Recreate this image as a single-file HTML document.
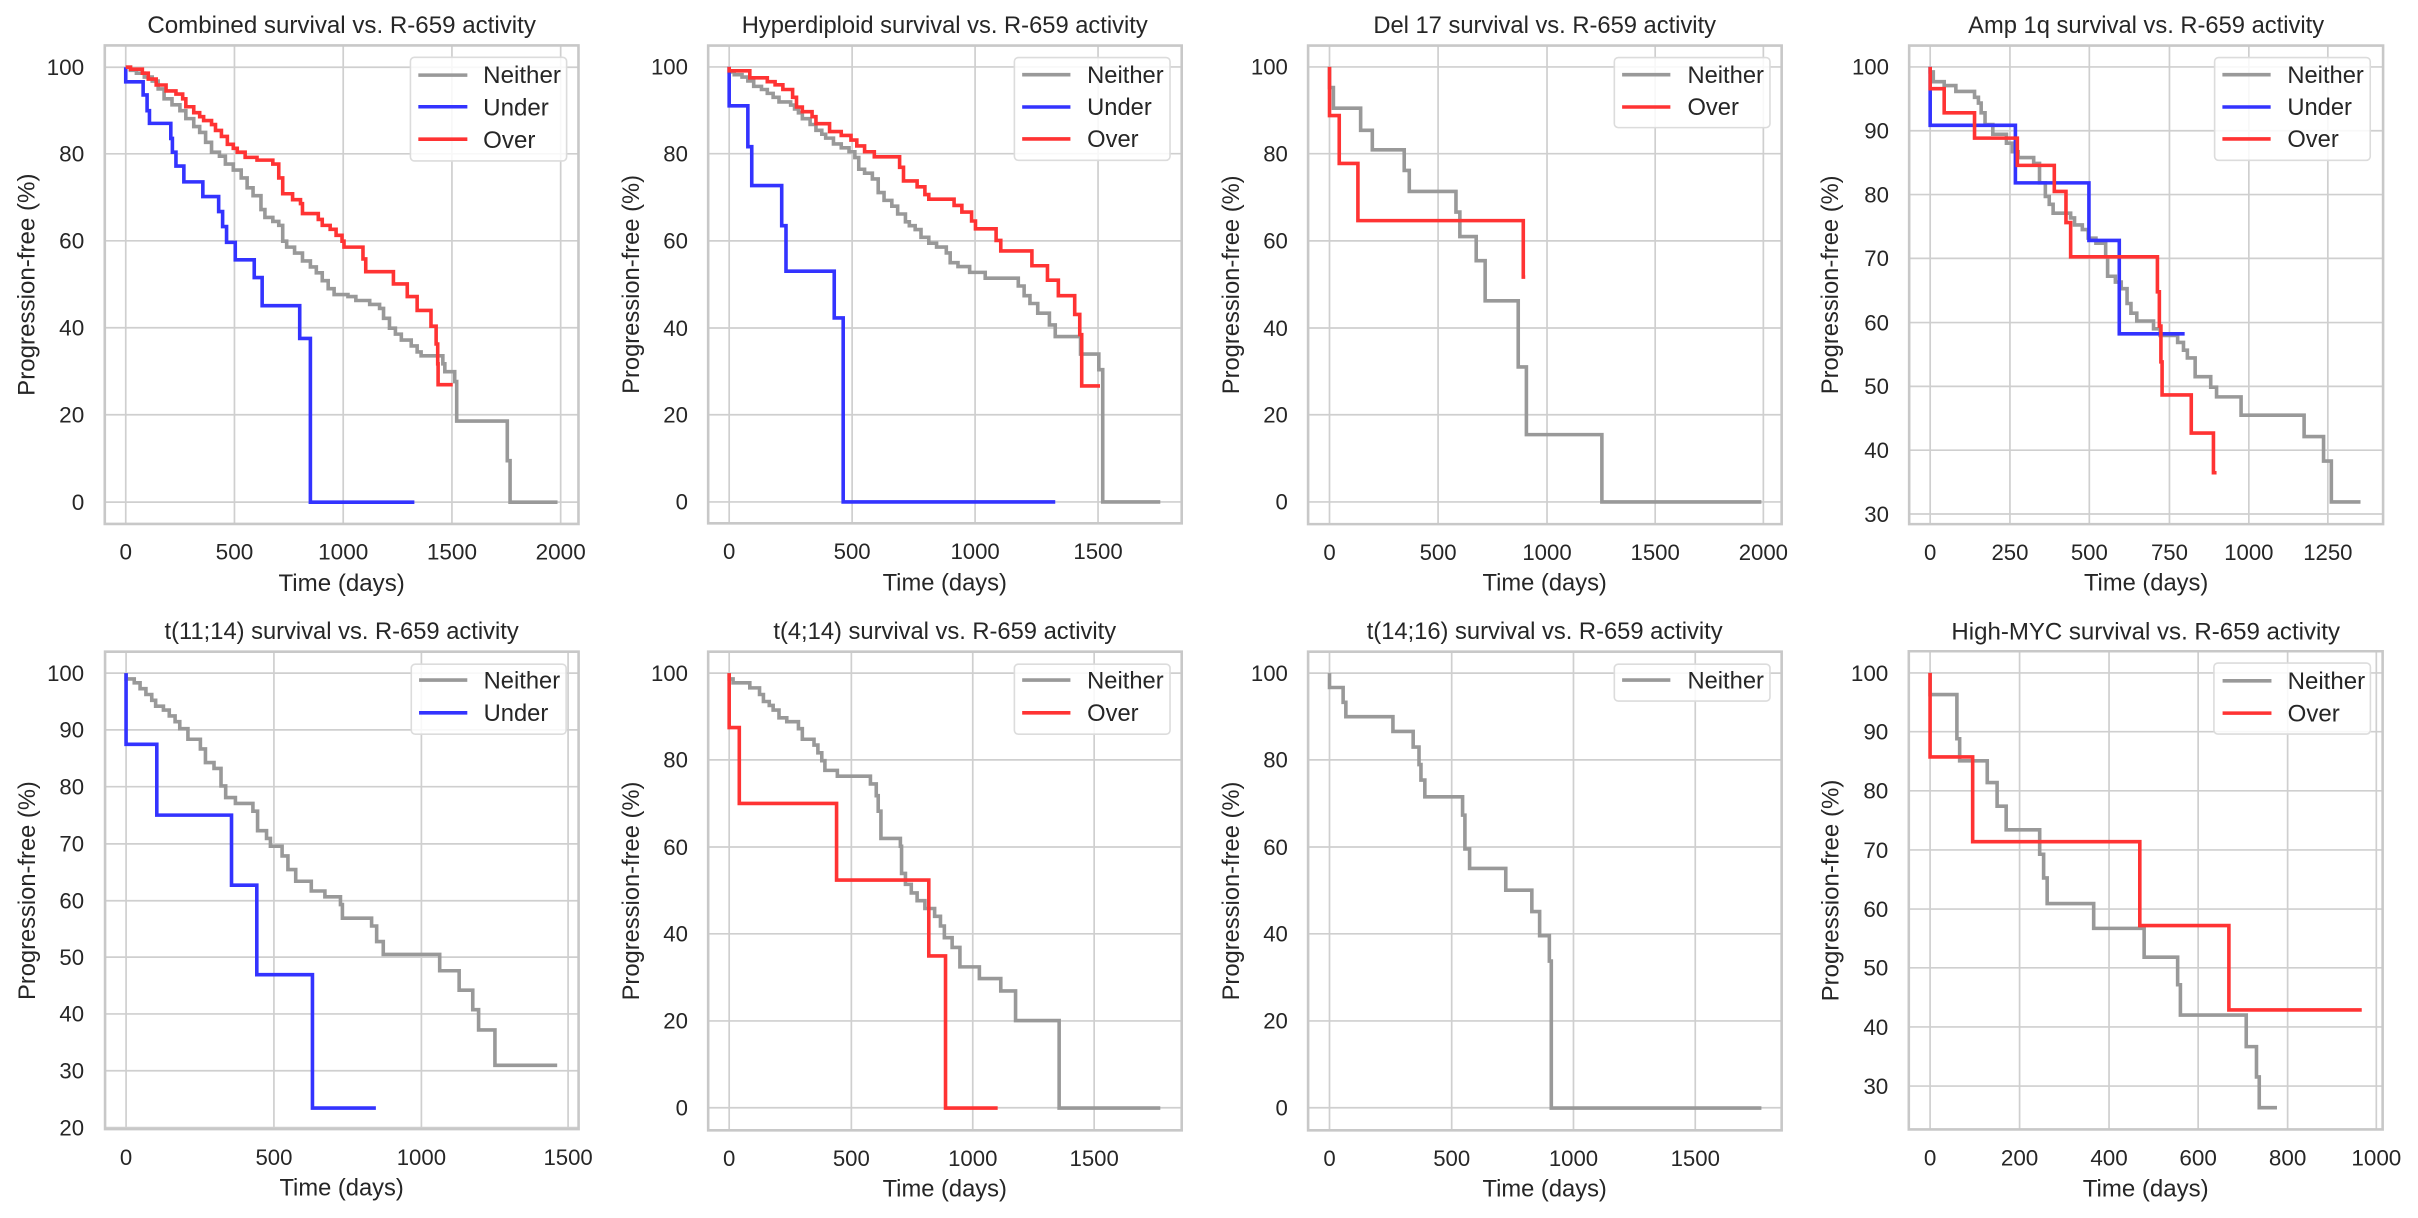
<!DOCTYPE html>
<html><head><meta charset="utf-8"><style>
html,body{margin:0;padding:0;background:#fff;}
svg{display:block;}
path,rect{vector-effect:non-scaling-stroke;}
.g{stroke:#cfcfcf;stroke-width:1.7;fill:none;}
.f{stroke:#c8c8c8;stroke-width:2.6;fill:none;}
.n{stroke:#999;stroke-width:3.6;fill:none;}
.u{stroke:#3333ff;stroke-width:3.6;fill:none;}
.o{stroke:#ff3333;stroke-width:3.6;fill:none;}
.lg{fill:#fff;fill-opacity:0.85;stroke:#dcdcdc;stroke-width:1.6;}
text{font-family:"Liberation Sans",Arial,sans-serif;fill:#262626;}
.t{font-size:57px;}
.ty{font-size:57px;text-anchor:end;}
.tx{font-size:57px;text-anchor:middle;}
.l{font-size:61px;text-anchor:middle;}
.lt{font-size:61px;}
</style></head><body>
<svg width="2418" height="1218" viewBox="0 0 2418 1218" xmlns="http://www.w3.org/2000/svg">

<!-- Panel 1 -->
<g transform="translate(0,0) scale(0.3954)">
<path class="g" d="M318 115V1325M593 115V1325M868 115V1325M1143 115V1325M1418 115V1325M265 170H1463M265 389H1463M265 609H1463M265 829H1463M265 1049H1463M265 1270H1463"/>
<path class="n" d="M318 170H330V178H345V185H365V195H385V205H400V225H415V250H435V265H455V280H470V300H490V320H505V335H520V360H535V385H555V395H570V415H590V430H610V450H625V475H640V495H660V530H670V550H690V560H705V570H715V610H725V625H745V640H765V660H785V675H800V690H815V710H830V730H845V745H880V750H900V760H935V770H960V780H970V805H985V830H1000V845H1015V860H1040V875H1055V890H1065V900H1100V900H1120V920H1125V940H1150V965H1155V1065H1283V1165H1290V1270H1410"/>
<path class="u" d="M318 170V207H362V240H372V280H378V312H432V350H436V385H445V420H465V460H513V497H553V535H563V573H573V613H595V657H643V702H663V773H758V856H785V1270H1048"/>
<path class="o" d="M318 170H330V175H360V185H375V200H395V215H420V230H445V238H462V250H470V270H490V285H505V295H515V305H535V315H545V330H560V345H575V365H590V375H600V385H620V398H650V405H690V415H705V450H715V490H740V505H760V515H765V540H805V555H815V570H835V580H850V595H865V610H870V625H918V655H925V687H995V718H1030V750H1055V785H1090V825H1103V870H1107V920H1108V973H1145"/>
<rect class="lg" x="1038" y="145" width="395" height="262" rx="10"/>
<path class="n" d="M1058 190H1182"/><path class="u" d="M1058 270H1182"/><path class="o" d="M1058 352H1182"/>
<text class="lt" x="1222" y="210">Neither</text><text class="lt" x="1222" y="292">Under</text><text class="lt" x="1222" y="374">Over</text>
<rect class="f" x="265" y="115" width="1198" height="1210"/>
<text class="ty" x="213" y="190">100</text><text class="ty" x="213" y="409">80</text><text class="ty" x="213" y="629">60</text><text class="ty" x="213" y="849">40</text><text class="ty" x="213" y="1069">20</text><text class="ty" x="213" y="1290">0</text>
<text class="tx" x="318" y="1415">0</text><text class="tx" x="593" y="1415">500</text><text class="tx" x="868" y="1415">1000</text><text class="tx" x="1143" y="1415">1500</text><text class="tx" x="1418" y="1415">2000</text>
<text class="l" x="864" y="1495">Time (days)</text>
<text class="l" transform="translate(87,720) rotate(-90)">Progression-free (%)</text>
<text class="l" x="864" y="83">Combined survival vs. R-659 activity</text>
</g>

<!-- Panel 2 -->
<g transform="translate(600,0) scale(0.3891)">
<path class="g" d="M332 117V1345M648 117V1345M964 117V1345M1280 117V1345M278 172H1495M278 395H1495M278 619H1495M278 843H1495M278 1066H1495M278 1290H1495"/>
<path class="n" d="M332 172V185H345V192H365V198H380V208H395V222H415V230H430V240H445V250H460V262H490V270H500V280H510V290H520V305H540V320H555V335H570V345H580V355H600V370H620V380H640V390H655V405H665V435H680V445H700V460H715V495H730V515H750V530H765V550H785V570H795V580H810V590H825V610H845V625H865V635H890V650H900V675H920V685H950V700H990V715H1075V735H1090V760H1105V780H1125V805H1155V835H1170V865H1235V910H1282V950H1292V1290H1440"/>
<path class="u" d="M332 172V272H380V377H390V477H467V580H478V697H602V817H625V1290H1170"/>
<path class="o" d="M332 172V182H385V200H430V210H450V218H470V230H495V250H505V275H520V287H545V300H555V318H590V338H620V348H645V360H660V375H680V390H705V403H770V430H780V465H815V480H835V500H845V512H910V528H930V545H955V568H965V588H1018V618H1030V645H1110V683H1150V720H1178V760H1220V808H1233V860H1238V992H1285"/>
<rect class="lg" x="1065" y="148" width="400" height="264" rx="10"/>
<path class="n" d="M1085 192H1209"/><path class="u" d="M1085 275H1209"/><path class="o" d="M1085 357H1209"/>
<text class="lt" x="1252" y="213">Neither</text><text class="lt" x="1252" y="296">Under</text><text class="lt" x="1252" y="378">Over</text>
<rect class="f" x="278" y="117" width="1217" height="1228"/>
<text class="ty" x="226" y="192">100</text><text class="ty" x="226" y="415">80</text><text class="ty" x="226" y="639">60</text><text class="ty" x="226" y="863">40</text><text class="ty" x="226" y="1086">20</text><text class="ty" x="226" y="1310">0</text>
<text class="tx" x="332" y="1437">0</text><text class="tx" x="648" y="1437">500</text><text class="tx" x="964" y="1437">1000</text><text class="tx" x="1280" y="1437">1500</text>
<text class="l" x="886" y="1517">Time (days)</text>
<text class="l" transform="translate(100,731) rotate(-90)">Progression-free (%)</text>
<text class="l" x="886" y="85">Hyperdiploid survival vs. R-659 activity</text>
</g>

<!-- Panel 3 -->
<g transform="translate(1205,0) scale(0.3891)">
<path class="g" d="M320 117V1347M599 117V1347M879 117V1347M1157 117V1347M1435 117V1347M265 172H1482M265 395H1482M265 619H1482M265 843H1482M265 1066H1482M265 1290H1482"/>
<path class="n" d="M320 172V225H330V278H400V335H430V385H512V438H525V492H645V545H655V608H697V670H720V773H805V943H826V1117H1020V1290H1430"/>
<path class="o" d="M320 172V297H345V420H393V567H818V712H823"/>
<rect class="lg" x="1052" y="148" width="400" height="180" rx="10"/>
<path class="n" d="M1072 192H1196"/><path class="o" d="M1072 275H1196"/>
<text class="lt" x="1240" y="213">Neither</text><text class="lt" x="1240" y="296">Over</text>
<rect class="f" x="265" y="117" width="1217" height="1230"/>
<text class="ty" x="213" y="192">100</text><text class="ty" x="213" y="415">80</text><text class="ty" x="213" y="639">60</text><text class="ty" x="213" y="863">40</text><text class="ty" x="213" y="1086">20</text><text class="ty" x="213" y="1310">0</text>
<text class="tx" x="320" y="1439">0</text><text class="tx" x="599" y="1439">500</text><text class="tx" x="879" y="1439">1000</text><text class="tx" x="1157" y="1439">1500</text><text class="tx" x="1435" y="1439">2000</text>
<text class="l" x="873" y="1517">Time (days)</text>
<text class="l" transform="translate(87,732) rotate(-90)">Progression-free (%)</text>
<text class="l" x="873" y="85">Del 17 survival vs. R-659 activity</text>
</g>

<!-- Panel 4 -->
<g transform="translate(1808,0) scale(0.3891)">
<path class="g" d="M314 117V1347M519 117V1347M723 117V1347M929 117V1347M1133 117V1347M1336 117V1347M260 172H1478M260 336H1478M260 500H1478M260 664H1478M260 829H1478M260 993H1478M260 1157H1478M260 1321H1478"/>
<path class="n" d="M314 172V185H322V210H350V220H380V235H428V250H438V265H445V290H455V320H475V345H510V368H525V390H540V405H580V420H595V470H610V505H620V525H630V548H675V560H685V578H705V590H720V612H740V625H765V660H770V710H790V725H805V742H820V780H830V805H845V825H888V845H905V862H950V880H965V900H975V920H995V968H1035V995H1050V1020H1113V1067H1275V1122H1325V1185H1345V1290H1420"/>
<path class="u" d="M314 172V322H533V470H722V618H800V858H968"/>
<path class="o" d="M314 172V228H350V290H428V355H538V425H633V492H663V572H675V660H898V750H903V838H907V930H910V1015H985V1113H1042V1215H1050"/>
<rect class="lg" x="1045" y="148" width="400" height="264" rx="10"/>
<path class="n" d="M1065 192H1189"/><path class="u" d="M1065 275H1189"/><path class="o" d="M1065 357H1189"/>
<text class="lt" x="1232" y="213">Neither</text><text class="lt" x="1232" y="296">Under</text><text class="lt" x="1232" y="378">Over</text>
<rect class="f" x="260" y="117" width="1218" height="1230"/>
<text class="ty" x="208" y="192">100</text><text class="ty" x="208" y="356">90</text><text class="ty" x="208" y="520">80</text><text class="ty" x="208" y="684">70</text><text class="ty" x="208" y="849">60</text><text class="ty" x="208" y="1013">50</text><text class="ty" x="208" y="1177">40</text><text class="ty" x="208" y="1341">30</text>
<text class="tx" x="314" y="1439">0</text><text class="tx" x="519" y="1439">250</text><text class="tx" x="723" y="1439">500</text><text class="tx" x="929" y="1439">750</text><text class="tx" x="1133" y="1439">1000</text><text class="tx" x="1336" y="1439">1250</text>
<text class="l" x="869" y="1517">Time (days)</text>
<text class="l" transform="translate(77,732) rotate(-90)">Progression-free (%)</text>
<text class="l" x="869" y="85">Amp 1q survival vs. R-659 activity</text>
</g>

<!-- Panel 5 -->
<g transform="translate(0,605) scale(0.3891)">
<path class="g" d="M324 120V1347M704 120V1347M1083 120V1347M1460 120V1347M270 175H1487M270 321H1487M270 467H1487M270 614H1487M270 760H1487M270 905H1487M270 1051H1487M270 1197H1487M270 1343H1487"/>
<path class="n" d="M324 175V190H345V200H360V215H375V230H390V245H400V260H420V270H435V285H450V300H462V318H483V345H515V370H528V405H550V420H568V465H580V495H605V510H650V530H662V580H685V600H695V620H725V645H740V680H760V710H800V735H835V750H875V770H880V805H955V825H968V865H985V898H1130V940H1180V990H1215V1040H1230V1092H1272V1183H1432"/>
<path class="u" d="M324 175V358H403V540H595V720H660V950H803V1293H966"/>
<rect class="lg" x="1057" y="152" width="398" height="180" rx="10"/>
<path class="n" d="M1077 193H1201"/><path class="u" d="M1077 277H1201"/>
<text class="lt" x="1243" y="214">Neither</text><text class="lt" x="1243" y="298">Under</text>
<rect class="f" x="270" y="120" width="1217" height="1227"/>
<text class="ty" x="216" y="195">100</text><text class="ty" x="216" y="341">90</text><text class="ty" x="216" y="487">80</text><text class="ty" x="216" y="634">70</text><text class="ty" x="216" y="780">60</text><text class="ty" x="216" y="925">50</text><text class="ty" x="216" y="1071">40</text><text class="ty" x="216" y="1217">30</text><text class="ty" x="216" y="1363">20</text>
<text class="tx" x="324" y="1439">0</text><text class="tx" x="704" y="1439">500</text><text class="tx" x="1083" y="1439">1000</text><text class="tx" x="1460" y="1439">1500</text>
<text class="l" x="878" y="1517">Time (days)</text>
<text class="l" transform="translate(90,734) rotate(-90)">Progression-free (%)</text>
<text class="l" x="878" y="88">t(11;14) survival vs. R-659 activity</text>
</g>

<!-- Panel 6 -->
<g transform="translate(600,605) scale(0.3891)">
<path class="g" d="M332 120V1350M646 120V1350M958 120V1350M1270 120V1350M278 175H1495M278 398H1495M278 622H1495M278 845H1495M278 1069H1495M278 1292H1495"/>
<path class="n" d="M332 175V190H342V200H385V213H410V230H420V248H435V258H445V270H460V290H480V300H510V318H520V345H550V360H560V380H570V400H578V425H610V440H695V460H710V490H715V530H722V600H772V620H775V690H785V718H800V740H815V760H835V780H860V800H875V825H885V855H905V880H925V930H975V960H1030V992H1068V1068H1180V1293H1440"/>
<path class="o" d="M332 175V315H358V510H608V707H845V902H888V1293H1022"/>
<rect class="lg" x="1065" y="152" width="400" height="180" rx="10"/>
<path class="n" d="M1085 193H1209"/><path class="o" d="M1085 277H1209"/>
<text class="lt" x="1252" y="214">Neither</text><text class="lt" x="1252" y="298">Over</text>
<rect class="f" x="278" y="120" width="1217" height="1230"/>
<text class="ty" x="226" y="195">100</text><text class="ty" x="226" y="418">80</text><text class="ty" x="226" y="642">60</text><text class="ty" x="226" y="865">40</text><text class="ty" x="226" y="1089">20</text><text class="ty" x="226" y="1312">0</text>
<text class="tx" x="332" y="1442">0</text><text class="tx" x="646" y="1442">500</text><text class="tx" x="958" y="1442">1000</text><text class="tx" x="1270" y="1442">1500</text>
<text class="l" x="886" y="1520">Time (days)</text>
<text class="l" transform="translate(100,735) rotate(-90)">Progression-free (%)</text>
<text class="l" x="886" y="88">t(4;14) survival vs. R-659 activity</text>
</g>

<!-- Panel 7 -->
<g transform="translate(1205,605) scale(0.3891)">
<path class="g" d="M320 120V1350M634 120V1350M947 120V1350M1260 120V1350M265 175H1482M265 398H1482M265 622H1482M265 845H1482M265 1069H1482M265 1292H1482"/>
<path class="n" d="M320 175V212H355V250H362V287H483V325H535V365H550V410H555V450H565V493H662V540H668V627H680V677H773V733H840V788H860V850H885V915H890V1293H1430"/>
<rect class="lg" x="1052" y="152" width="400" height="95" rx="10"/>
<path class="n" d="M1072 193H1196"/>
<text class="lt" x="1240" y="214">Neither</text>
<rect class="f" x="265" y="120" width="1217" height="1230"/>
<text class="ty" x="213" y="195">100</text><text class="ty" x="213" y="418">80</text><text class="ty" x="213" y="642">60</text><text class="ty" x="213" y="865">40</text><text class="ty" x="213" y="1089">20</text><text class="ty" x="213" y="1312">0</text>
<text class="tx" x="320" y="1442">0</text><text class="tx" x="634" y="1442">500</text><text class="tx" x="947" y="1442">1000</text><text class="tx" x="1260" y="1442">1500</text>
<text class="l" x="873" y="1520">Time (days)</text>
<text class="l" transform="translate(87,735) rotate(-90)">Progression-free (%)</text>
<text class="l" x="873" y="88">t(14;16) survival vs. R-659 activity</text>
</g>

<!-- Panel 8 -->
<g transform="translate(1800,600) scale(0.3942)">
<path class="g" d="M330 130V1343M557 130V1343M784 130V1343M1010 130V1343M1237 130V1343M1462 130V1343M276 185H1478M276 334H1478M276 484H1478M276 634H1478M276 784H1478M276 933H1478M276 1083H1478M276 1233H1478"/>
<path class="n" d="M330 185V240H398V352H405V408H475V463H500V523H523V583H608V645H618V705H627V770H745V833H873V906H958V976H965V1053H1132V1133H1158V1210H1165V1288H1210"/>
<path class="o" d="M330 185V398H438V613H862V826H1088V1040H1425"/>
<rect class="lg" x="1050" y="160" width="397" height="180" rx="10"/>
<path class="n" d="M1072 205H1196"/><path class="o" d="M1072 287H1196"/>
<text class="lt" x="1237" y="226">Neither</text><text class="lt" x="1237" y="308">Over</text>
<rect class="f" x="276" y="130" width="1202" height="1213"/>
<text class="ty" x="224" y="205">100</text><text class="ty" x="224" y="354">90</text><text class="ty" x="224" y="504">80</text><text class="ty" x="224" y="654">70</text><text class="ty" x="224" y="804">60</text><text class="ty" x="224" y="953">50</text><text class="ty" x="224" y="1103">40</text><text class="ty" x="224" y="1253">30</text>
<text class="tx" x="330" y="1435">0</text><text class="tx" x="557" y="1435">200</text><text class="tx" x="784" y="1435">400</text><text class="tx" x="1010" y="1435">600</text><text class="tx" x="1237" y="1435">800</text><text class="tx" x="1462" y="1435">1000</text>
<text class="l" x="877" y="1513">Time (days)</text>
<text class="l" transform="translate(98,737) rotate(-90)">Progression-free (%)</text>
<text class="l" x="877" y="100">High-MYC survival vs. R-659 activity</text>
</g>

</svg>
</body></html>
